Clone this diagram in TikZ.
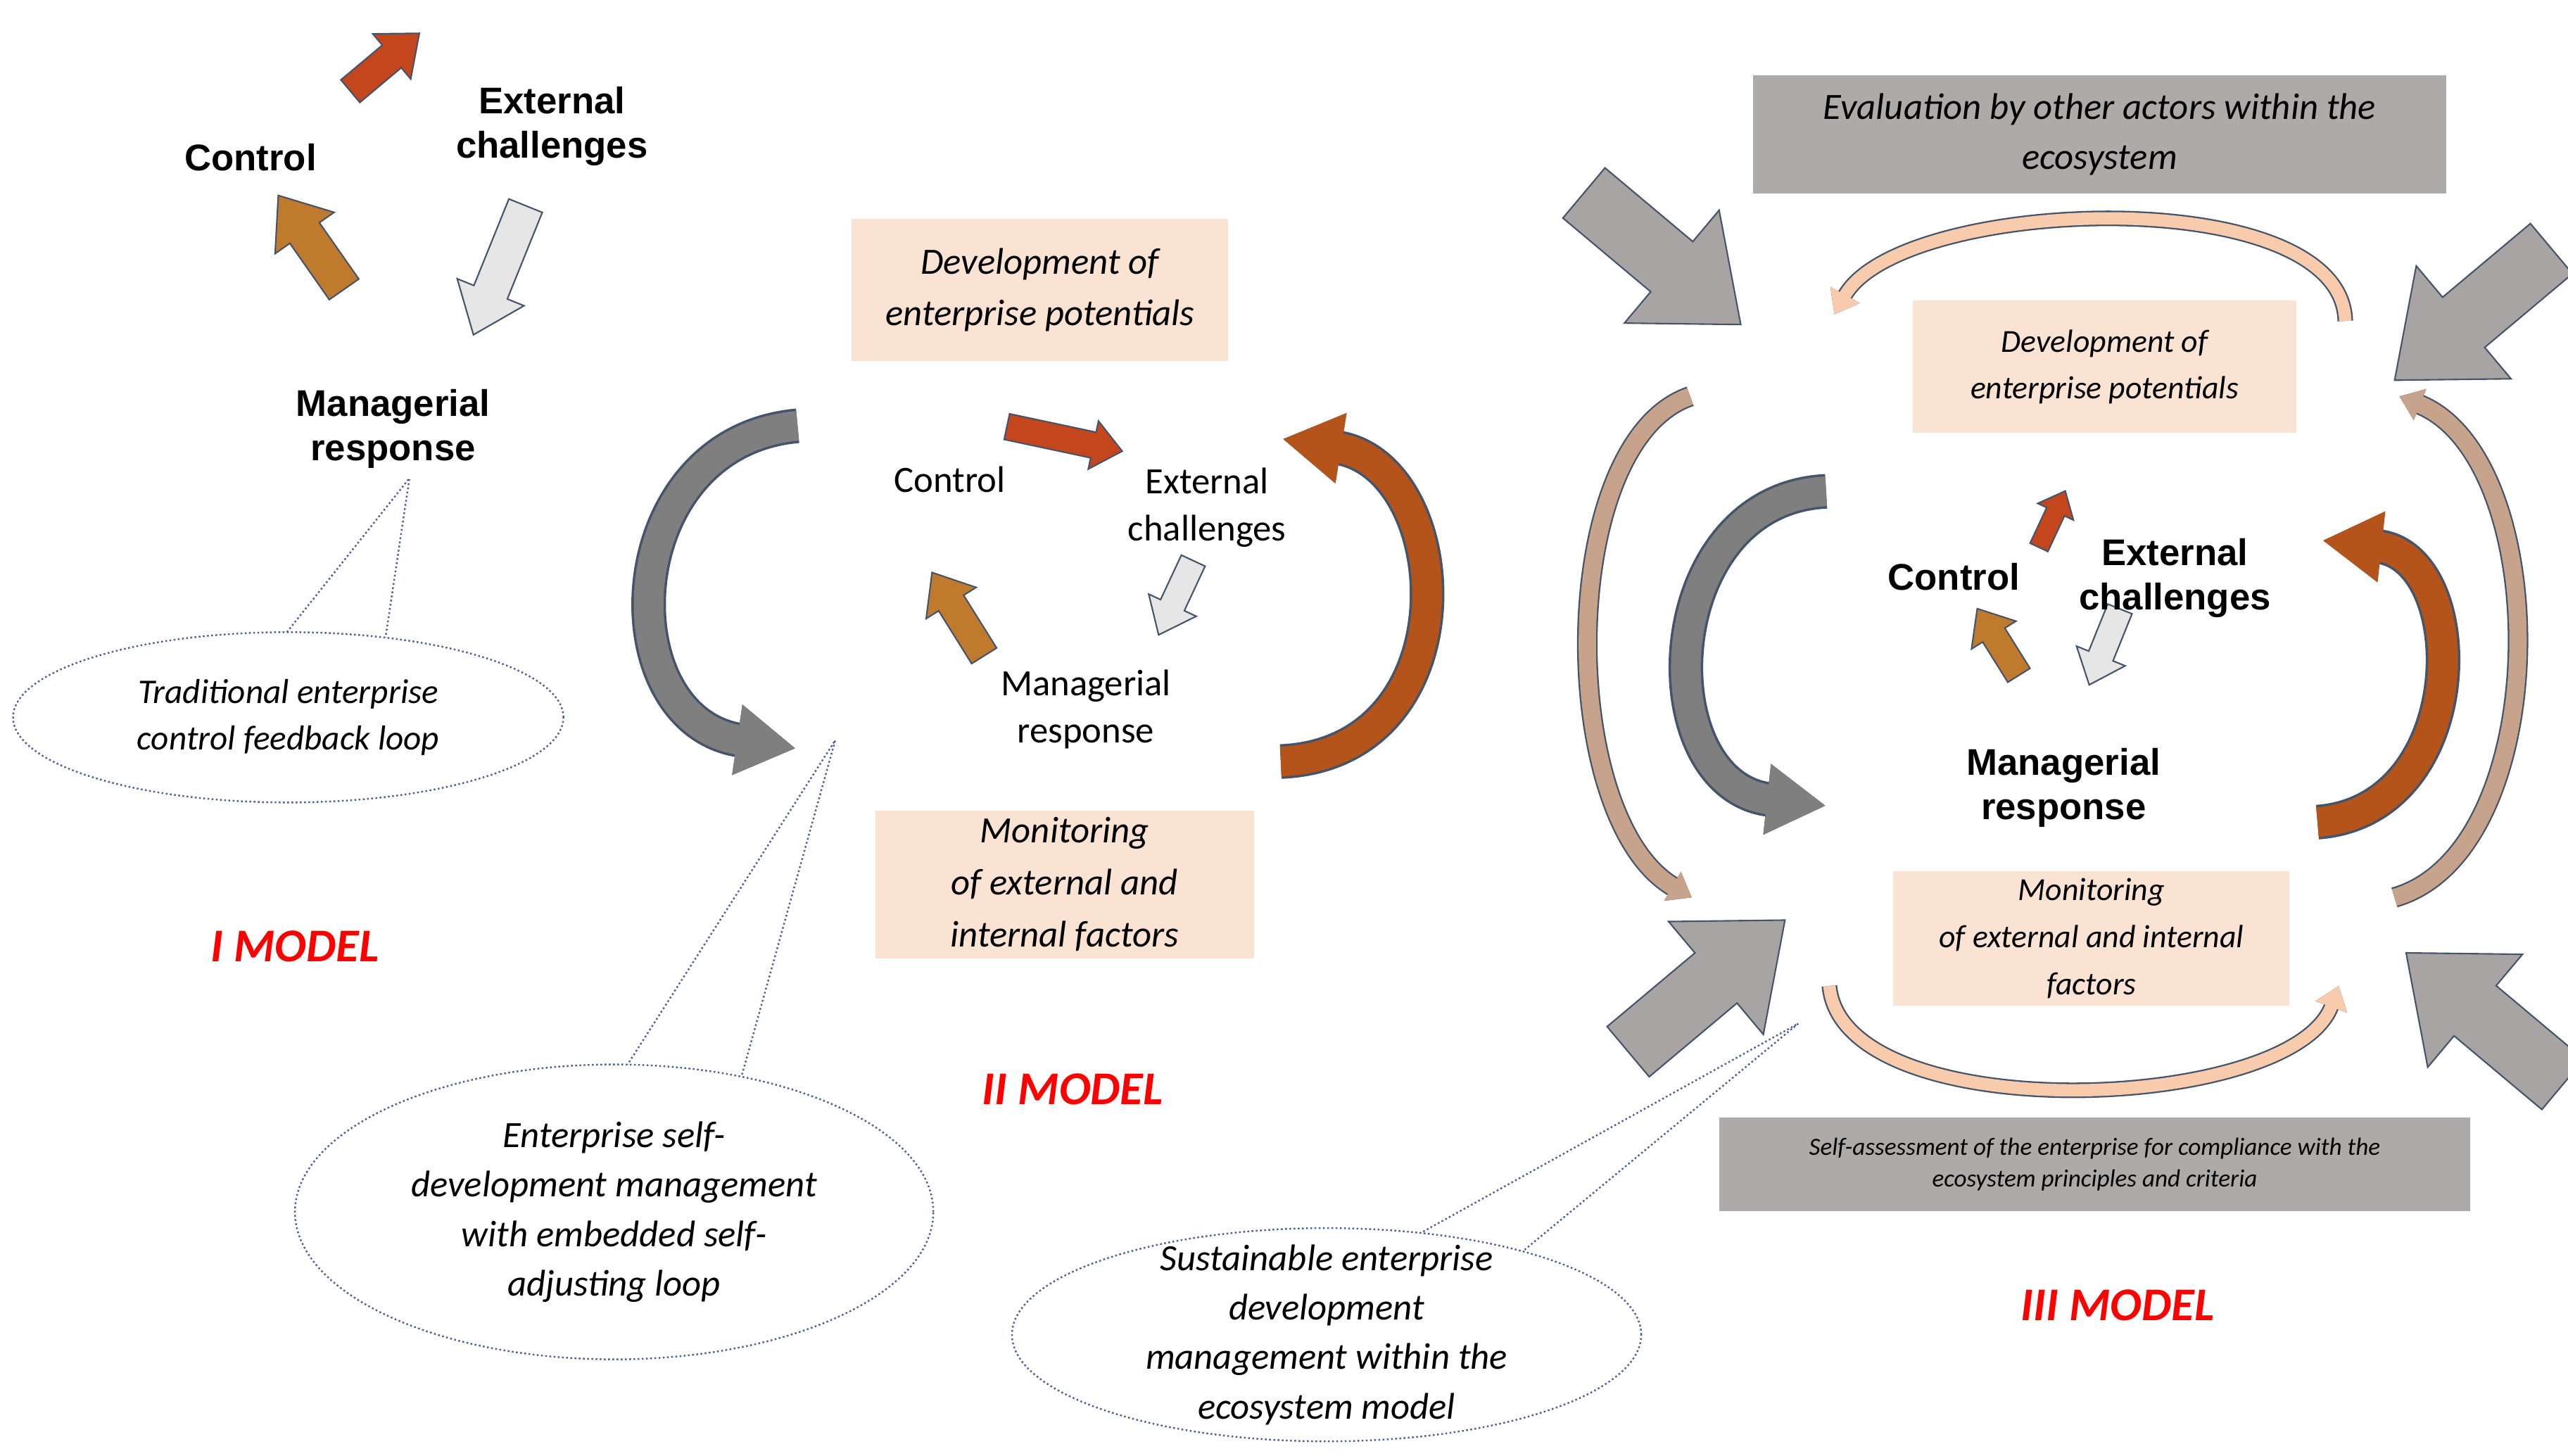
\documentclass[tikz,border=0pt]{standalone}
\usepackage{fontspec}
\setmainfont{Carlito}
\newfontfamily\ars{Liberation Sans}
\usetikzlibrary{arrows.meta,shapes.geometric}
\definecolor{bord}{HTML}{44546A}
\definecolor{redar}{HTML}{C4461C}
\definecolor{brar}{HTML}{BF7A2E}
\definecolor{whar}{HTML}{E6E6E6}
\definecolor{gbig}{HTML}{A8A4A4}
\definecolor{peach}{HTML}{FBE3D4}
\definecolor{gbox}{HTML}{AEAAAA}
\definecolor{darkg}{HTML}{7F7F7F}
\definecolor{orng}{HTML}{B5541A}
\definecolor{lpeach}{HTML}{F8CBAD}
\definecolor{tan}{HTML}{C8A38C}
\definecolor{dblue}{HTML}{4A5F9A}
\newcommand\fatarr[8]{\begin{scope}[shift={(#1,#2)},rotate=#3]
\filldraw[draw=bord,fill=#8,line width=0.6pt] (-#4/2,-#5)--(#4/2-#7,-#5)--(#4/2-#7,-#6)--(#4/2,0)--(#4/2-#7,#6)--(#4/2-#7,#5)--(-#4/2,#5)--cycle;
\end{scope}}
\tikzset{
 bl/.style={font=\ars\bfseries\fontsize{15}{18}\selectfont,align=center},
 it/.style={font=\itshape\fontsize{14}{19}\selectfont,align=center},
 box/.style={fill=peach,inner sep=0pt},
 gb/.style={fill=gbox,inner sep=0pt},
 model/.style={font=\bfseries\itshape\fontsize{19}{22}\selectfont,text=red},
 call/.style={draw=dblue,densely dotted,line width=0.7pt,fill=white},
 band/.style={line width=12pt,-{Triangle[length=24pt,width=27pt]}},
 thin/.style={line width=5pt,-{Triangle[length=9pt,width=13pt]}}
}
\begin{document}
\begin{tikzpicture}[x=0.02327cm,y=-0.02327cm]
\useasboundingbox (0,0) rectangle (1568,889);
% ===== Model I
\fatarr{235}{38}{40}{55}{9}{18}{22}{redar}
\fatarr{190}{148}{125}{70}{11}{22}{28}{brar}
\fatarr{305}{165}{-112}{85}{11}{22}{28}{whar}
\node[bl] (c1) at (153,96) {Control};
\node[bl] (e1) at (337,77) {External\\challenges};
\node[bl] (m1) at (240,262) {Managerial\\response};
\draw[call] (172,390)--(250,292)--(235,392);
\node[call,ellipse,minimum width=7.82cm,minimum height=2.42cm] (el1) at (176,438) {};
\node[it] (t1) at (176,438) {Traditional enterprise\\control feedback loop};
\node[model] (mI) at (180,578) {I MODEL};
% ===== Model II
\node[box,minimum width=5.35cm,minimum height=2.02cm] (d2) at (635,177) {};
\node[it,font=\itshape\fontsize{15}{21}\selectfont] at (635,177) {Development of\\enterprise potentials};
\node[box,minimum width=5.38cm,minimum height=2.1cm] (mo2) at (650,540) {};
\node[it,font=\itshape\fontsize{15}{21}\selectfont] at (650,540) {Monitoring\\of external and\\internal factors};
\coordinate (g1) at (487,260); \coordinate (g2) at (486,457);
\draw[band,draw=bord,line width=14pt] (g1) .. controls (375,270) and (370,440) .. (g2);
\draw[band,draw=darkg] (g1) .. controls (375,270) and (370,440) .. (g2);
\coordinate (o1) at (782,465); \coordinate (o2) at (783,268);
\draw[band,draw=bord,line width=14pt] (o1) .. controls (900,460) and (890,285) .. (o2);
\draw[band,draw=orng] (o1) .. controls (900,460) and (890,285) .. (o2);
\fatarr{650}{268}{-12}{72}{8}{15}{18}{redar}
\fatarr{585}{375}{122}{60}{9}{18}{22}{brar}
\fatarr{718}{365}{-115}{50}{8}{16}{20}{whar}
\node[font=\fontsize{15}{18}\selectfont] (c2) at (580,293) {Control};
\node[font=\fontsize{15}{19}\selectfont,align=center] (e2) at (737,310) {External\\challenges};
\node[font=\fontsize{15}{19}\selectfont,align=center] (m2) at (663,433) {Managerial\\response};
\draw[call] (380,655)--(510,452)--(452,660);
\node[call,ellipse,minimum width=9.07cm,minimum height=4.19cm] (el2) at (375,740) {};
\node[it,font=\itshape\fontsize{15}{20}\selectfont] at (375,740) {Enterprise self-\\development management\\with embedded self-\\adjusting loop};
\node[model] (mII) at (655,665) {II MODEL};
% ===== Model III
\node[gb,minimum width=9.84cm,minimum height=1.68cm] (ev) at (1282,82) {};
\node[it,font=\itshape\fontsize{15}{20}\selectfont] at (1282,82) {Evaluation by other actors within the\\ecosystem};
\node[gb,minimum width=10.66cm,minimum height=1.33cm] (sa) at (1279,711) {};
\node[font=\itshape\fontsize{10}{13}\selectfont,align=center] at (1279,711) {Self-assessment of the enterprise for compliance with the\\ecosystem principles and criteria};
\fatarr{1015}{158}{-40}{125}{20}{45}{55}{gbig}
\fatarr{1510}{192}{-140}{125}{20}{45}{55}{gbig}
\fatarr{1042}{602}{40}{125}{20}{45}{55}{gbig}
\fatarr{1517}{622}{140}{125}{20}{45}{55}{gbig}
% thin arcs
\coordinate (a1) at (1432,196); \coordinate (a2) at (1120,192);
\draw[thin,draw=bord,line width=6.3pt] (a1) .. controls (1430,110) and (1160,120) .. (a2);
\draw[thin,draw=lpeach] (a1) .. controls (1430,110) and (1160,120) .. (a2);
\coordinate (a3) at (1117,602); \coordinate (a4) at (1428,602);
\draw[thin,draw=bord,line width=6.3pt] (a3) .. controls (1125,690) and (1400,680) .. (a4);
\draw[thin,draw=lpeach] (a3) .. controls (1125,690) and (1400,680) .. (a4);
\coordinate (a5) at (1032,242); \coordinate (a6) at (1033,548);
\draw[thin,draw=bord,line width=8.3pt] (a5) .. controls (950,270) and (950,500) .. (a6);
\draw[thin,draw=tan,line width=7pt] (a5) .. controls (950,270) and (950,500) .. (a6);
\coordinate (a7) at (1462,548); \coordinate (a8) at (1465,242);
\draw[thin,draw=bord,line width=8.3pt] (a7) .. controls (1560,520) and (1560,280) .. (a8);
\draw[thin,draw=tan,line width=7pt] (a7) .. controls (1560,520) and (1560,280) .. (a8);
\node[box,minimum width=5.45cm,minimum height=1.88cm] (d3) at (1285,224) {};
\node[it,font=\itshape\fontsize{13}{19}\selectfont] at (1285,224) {Development of\\enterprise potentials};
\node[box,minimum width=5.63cm,minimum height=1.91cm] (mo3) at (1277,573) {};
\node[it,font=\itshape\fontsize{13}{19}\selectfont] at (1277,573) {Monitoring\\of external and internal\\factors};
\coordinate (g3) at (1115,300); \coordinate (g4) at (1115,492);
\draw[band,draw=bord,line width=14pt] (g3) .. controls (1010,305) and (1005,480) .. (g4);
\draw[band,draw=darkg] (g3) .. controls (1010,305) and (1005,480) .. (g4);
\coordinate (o3) at (1415,502); \coordinate (o4) at (1418,330);
\draw[band,draw=bord,line width=14pt] (o3) .. controls (1510,495) and (1510,340) .. (o4);
\draw[band,draw=orng] (o3) .. controls (1510,495) and (1510,340) .. (o4);
\fatarr{1253}{317}{65}{38}{6}{12}{14}{redar}
\fatarr{1220}{392}{122}{48}{8}{16}{19}{brar}
\fatarr{1285}{395}{-112}{50}{8}{16}{19}{whar}
\node[bl] (c3) at (1193,352) {Control};
\node[bl] (e3) at (1328,353) {External\\challenges};
\node[bl] (m3) at (1260,481) {Managerial\\response};
\draw[call] (860,757)--(1098,625)--(925,768);
\node[call,ellipse,minimum width=8.94cm,minimum height=3.03cm] (el3) at (810,815) {};
\node[it,font=\itshape\fontsize{15}{20}\selectfont] at (810,815) {Sustainable enterprise\\development\\management within the\\ecosystem model};
\node[model] (mIII) at (1293,797) {III MODEL};
\end{tikzpicture}
\end{document}
